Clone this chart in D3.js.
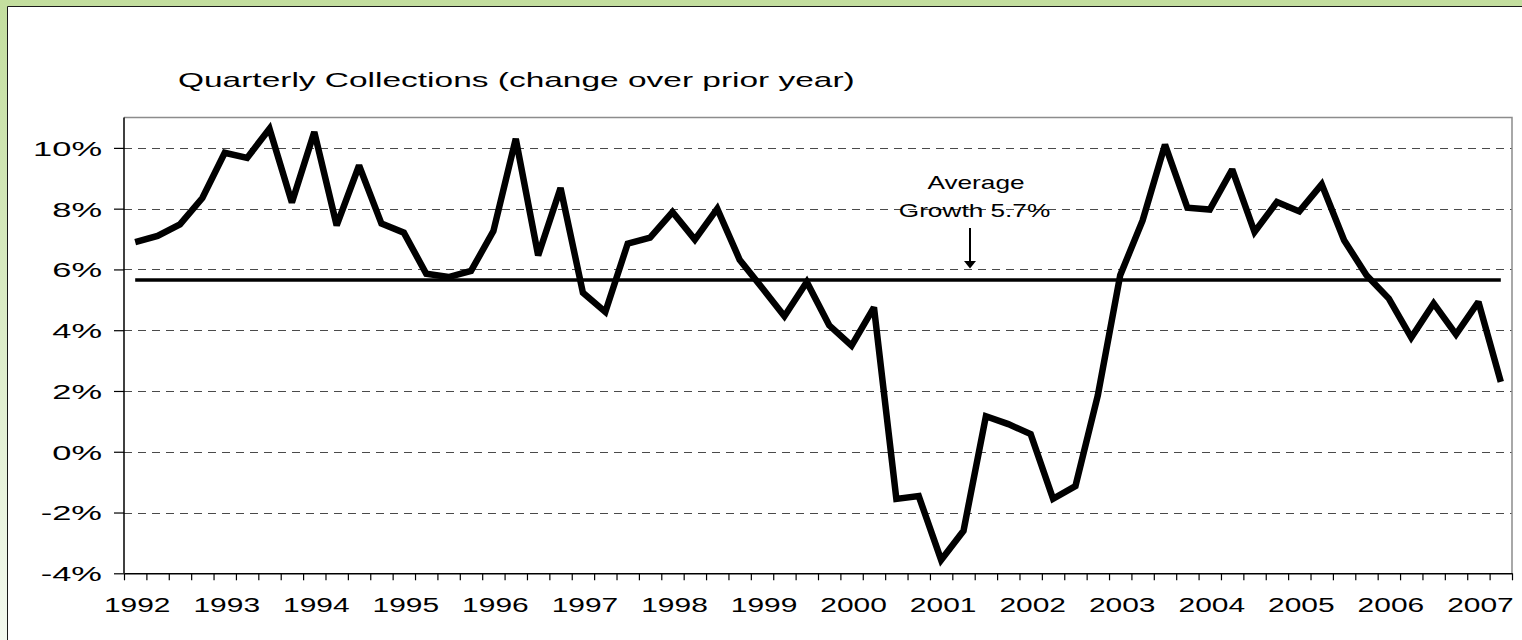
<!DOCTYPE html>
<html>
<head>
<meta charset="utf-8">
<script src="https://cdn.jsdelivr.net/npm/d3@7"></script>
<style>
  html, body { margin: 0; padding: 0; background: #fff; overflow: hidden; }
  svg { display: block; }
  .lbl { font-family: "Liberation Sans", Arial, sans-serif; fill: #000; }
</style>
</head>
<body>
<div id="chart"></div>
<script>
const WIDTH = 1522;
const HEIGHT = 640;

// data, one value per quarter from 1992 Q1 to 2007 Q2
var years = [1992, 1993, 1994, 1995, 1996, 1997, 1998, 1999, 2000, 2001, 2002, 2003, 2004, 2005, 2006, 2007];
var quarters = ["Q1", "Q2", "Q3", "Q4"];
var growth = [
  6.90, 7.10, 7.48, 8.35,   9.84, 9.67, 10.63, 8.20,
  10.52, 7.45, 9.42, 7.51,  7.21, 5.86, 5.75, 5.95,
  7.26, 10.30, 6.46, 8.68,  5.23, 4.60, 6.85, 7.05,
  7.89, 6.98, 8.00, 6.32,   5.40, 4.46, 5.59, 4.16,
  3.49, 4.75, -1.55, -1.46, -3.56, -2.60, 1.17, 0.91,
  0.58, -1.55, -1.13, 1.86, 5.81, 7.61, 10.11, 8.03,
  7.97, 9.29, 7.23, 8.22,   7.91, 8.80, 6.96, 5.81,
  5.04, 3.76, 4.88, 3.86,   4.93, 2.30
];
var average = 5.65;
var yTicks = [-4, -2, 0, 2, 4, 6, 8, 10];
var title = "Quarterly Collections (change over prior year)";
var noteLines = ["Average", "Growth 5.7%"];

var categories = [];
years.forEach(yr => quarters.forEach(q => categories.push(yr + " " + q)));
categories = categories.slice(0, growth.length);

const plot = { left: 124, right: 1512, top: 117.5, bottom: 573.3 };

var svg = d3.select("#chart").append("svg")
    .attr("width", WIDTH)
    .attr("height", HEIGHT);

// green page background and white chart panel (only left and top edges are in view)
var grad = svg.append("defs").append("linearGradient")
    .attr("id", "bg").attr("x1", 0).attr("y1", 0).attr("x2", 0).attr("y2", 1);
grad.append("stop").attr("offset", "0%").attr("stop-color", "#c3de9e");
grad.append("stop").attr("offset", "100%").attr("stop-color", "#f3f9ef");
svg.append("rect").attr("width", WIDTH).attr("height", HEIGHT).attr("fill", "url(#bg)");
svg.append("rect")
    .attr("x", 7.5).attr("y", 6.5)
    .attr("width", WIDTH).attr("height", HEIGHT)
    .attr("fill", "#fff");
svg.append("path")
    .attr("d", `M7.5,${HEIGHT}V6.5H${WIDTH}`)
    .attr("fill", "none").attr("stroke", "#1a1a1a").attr("stroke-width", 1);

var x = d3.scaleBand().domain(categories).range([plot.left, plot.right]);
var xEdge = d3.scaleLinear().domain([0, categories.length]).range([plot.left, plot.right]);
var y = d3.scaleLinear().domain([-4, 11]).range([plot.bottom, plot.top]);
var cx = d => x(d) + x.bandwidth() / 2;

// dashed gridlines
svg.append("g").selectAll("line")
    .data(yTicks.filter(d => d > -4))
    .join("line")
    .attr("x1", plot.left).attr("x2", plot.right)
    .attr("y1", d => Math.round(y(d)) + 0.5).attr("y2", d => Math.round(y(d)) + 0.5)
    .attr("stroke", "#4a4a4a")
    .attr("stroke-width", 1)
    .attr("stroke-dasharray", "8,6");

// top and right frame (grey)
svg.append("path")
    .attr("d", `M${plot.left},${plot.top}H${plot.right}V${plot.bottom}`)
    .attr("fill", "none").attr("stroke", "#8c8c8c").attr("stroke-width", 1.5);

// y axis
var yAxis = svg.append("g")
    .attr("transform", `translate(${plot.left},0)`)
    .call(d3.axisLeft(y).tickValues(yTicks).tickSize(10).tickSizeOuter(0).tickFormat(d => d + "%"));
yAxis.select(".domain").attr("stroke", "#000").attr("stroke-width", 1.5)
    .attr("d", `M0,${plot.top}V${plot.bottom}`);
yAxis.selectAll(".tick line").attr("stroke", "#000").attr("stroke-width", 1.2);
yAxis.selectAll(".tick text")
    .attr("class", "lbl")
    .attr("x", null).attr("dy", "0.36em")
    .attr("text-anchor", "end")
    .style("font-size", "20.5px")
    .attr("transform", "translate(-22,0) scale(1.68,1)");

// x axis: quarter tick marks at band edges
var xAxis = svg.append("g")
    .attr("transform", `translate(0,${plot.bottom})`)
    .call(d3.axisBottom(xEdge).tickValues(d3.range(categories.length + 1)).tickSize(7).tickSizeOuter(0).tickFormat(""));
xAxis.select(".domain").attr("stroke", "#000").attr("stroke-width", 1.5);
xAxis.selectAll(".tick line").attr("stroke", "#000").attr("stroke-width", 1.2);

// year labels under each first quarter
var xLabels = svg.append("g")
    .attr("transform", `translate(0,${plot.bottom})`)
    .call(d3.axisBottom(x).tickValues(categories.filter((d, i) => i % 4 === 0)).tickSize(0).tickFormat(d => d.slice(0, 4)));
xLabels.select(".domain").remove();
xLabels.selectAll(".tick text")
    .attr("class", "lbl")
    .attr("y", null).attr("dy", null)
    .style("font-size", "20.5px")
    .attr("text-anchor", "middle")
    .attr("transform", "translate(2,39) scale(1.46,1)");

// average line
svg.append("line")
    .attr("x1", cx(categories[0])).attr("x2", cx(categories[categories.length - 1]))
    .attr("y1", y(average)).attr("y2", y(average))
    .attr("stroke", "#000").attr("stroke-width", 3.5);

// quarterly growth line
var line = d3.line()
    .x((d, i) => cx(categories[i]))
    .y(d => y(d));
svg.append("path")
    .datum(growth)
    .attr("d", line)
    .attr("fill", "none")
    .attr("stroke", "#000")
    .attr("stroke-width", 6.5)
    .attr("stroke-linejoin", "miter")
    .attr("stroke-miterlimit", 2.2);

// title
svg.append("text")
    .attr("class", "lbl")
    .attr("transform", "translate(178,87) scale(1.69,1)")
    .style("font-size", "19.8px")
    .text(title);

// annotation with arrow
var noteX = 976;
svg.selectAll(".note")
    .data(noteLines)
    .join("text")
    .attr("class", "lbl note")
    .attr("text-anchor", "middle")
    .style("font-size", "18.6px")
    .attr("transform", (d, i) => `translate(${noteX - i * 1.5},${189.3 + i * 27.4}) scale(1.41,1)`)
    .text(d => d);

var arrowX = 970;
svg.append("line")
    .attr("x1", arrowX).attr("x2", arrowX)
    .attr("y1", 228).attr("y2", 262)
    .attr("stroke", "#000").attr("stroke-width", 2);
svg.append("path")
    .attr("d", `M${arrowX - 6},261L${arrowX + 6},261L${arrowX},268.5Z`)
    .attr("fill", "#000");
</script>
</body>
</html>
